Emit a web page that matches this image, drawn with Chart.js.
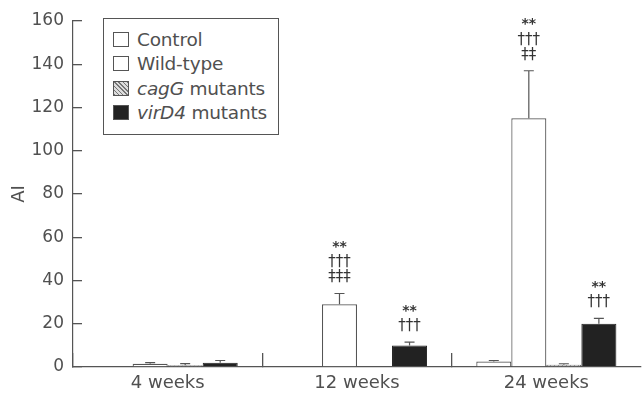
<!DOCTYPE html>
<html>
<head>
<meta charset="utf-8">
<script src="https://cdn.jsdelivr.net/npm/chart.js@4.4.1/dist/chart.umd.min.js"></script>
<style>
  html, body { margin: 0; padding: 0; background: #fff; }
  #wrap { position: relative; width: 644px; height: 397px; }
  #legend {
    position: absolute; left: 103px; top: 18px; width: 176px; height: 117px;
    border: 1.2px solid #555; box-sizing: border-box; background: #fff;
    font-family: "DejaVu Sans", sans-serif; font-size: 18.5px; color: #505050;
    padding: 9px 0 0 9px;
  }
  #legend div { height: 24.3px; line-height: 24px; white-space: nowrap; letter-spacing: -0.2px; }
  #legend span.box {
    display: inline-block; width: 16px; height: 15px; box-sizing: border-box;
    border: 1.2px solid #555; vertical-align: -1px; margin-right: 8px; background: #fff;
  }
</style>
</head>
<body>
<div id="wrap">
  <canvas id="chart"></canvas>
  <div id="legend">
    <div><span class="box"></span>Control</div>
    <div><span class="box"></span>Wild-type</div>
    <div><span class="box" style="background: repeating-linear-gradient(45deg,#777 0 1px,#ddd 1px 3px)"></span><i>cagG</i> mutants</div>
    <div><span class="box" style="background:#222"></span><i>virD4</i> mutants</div>
  </div>
</div>
<script>
const categories = ['4 weeks', '12 weeks', '24 weeks'];
const yTicks = [0, 20, 40, 60, 80, 100, 120, 140, 160];

const control = [0.4, 0.5, 2.5];
const controlErr = [0, 0, 0.5];
const wildType = [1.5, 29, 115];
const wildTypeErr = [0.5, 5, 22];
const cagG = [0.8, 0.5, 1];
const cagGErr = [0.8, 0, 0.5];
const virD4 = [2, 10, 20];
const virD4Err = [1, 1.5, 2.5];

// significance marks above the error bars, bottom line last
const wildTypeMarks = [[], ['**', '†††', '‡‡‡'], ['**', '†††', '‡‡']];
const virD4Marks = [[], ['**', '†††'], ['**', '†††']];

const ink = '#505050';
const font = '"DejaVu Sans", sans-serif';

// hatched fill for cagG
const pc = document.createElement('canvas');
pc.width = 4; pc.height = 4;
const px = pc.getContext('2d');
px.fillStyle = '#ddd'; px.fillRect(0, 0, 4, 4);
px.strokeStyle = '#777'; px.beginPath(); px.moveTo(0, 4); px.lineTo(4, 0); px.stroke();
const hatch = px.createPattern(pc, 'repeat');

const errorBars = {
  id: 'errorBars',
  afterDatasetsDraw(chart) {
    const ctx = chart.ctx;
    const y = chart.scales.y;
    ctx.save();
    ctx.strokeStyle = '#555';
    ctx.lineWidth = 1.2;
    chart.data.datasets.forEach((ds, i) => {
      const meta = chart.getDatasetMeta(i);
      meta.data.forEach((bar, j) => {
        const err = ds.err[j];
        const top = y.getPixelForValue(ds.data[j] + err);
        const base = y.getPixelForValue(ds.data[j]);
        if (err > 0) {
          ctx.beginPath();
          ctx.moveTo(bar.x, base); ctx.lineTo(bar.x, top);
          ctx.moveTo(bar.x - 5, top); ctx.lineTo(bar.x + 5, top);
          ctx.stroke();
        }
        const marks = ds.marks ? ds.marks[j] : [];
        ctx.fillStyle = '#333';
        ctx.textAlign = 'center';
        ctx.textBaseline = 'middle';
        marks.slice().reverse().forEach((m, k) => {
          ctx.font = (m === '**' ? 'bold 14px ' : '15px ') + font;
          ctx.fillText(m, bar.x, top - 16 - 15 * k);
        });
      });
    });
    ctx.restore();
  }
};

new Chart(document.getElementById('chart'), {
  type: 'bar',
  data: {
    labels: categories,
    datasets: [
      { label: 'Control', data: control, err: controlErr, backgroundColor: '#fff', borderColor: '#555', borderWidth: 1.2 },
      { label: 'Wild-type', data: wildType, err: wildTypeErr, marks: wildTypeMarks, backgroundColor: '#fff', borderColor: '#555', borderWidth: 1.2 },
      { label: 'cagG mutants', data: cagG, err: cagGErr, backgroundColor: hatch, borderColor: '#555', borderWidth: 1.2 },
      { label: 'virD4 mutants', data: virD4, err: virD4Err, marks: virD4Marks, backgroundColor: '#222', borderColor: '#222', borderWidth: 1 }
    ]
  },
  options: {
    responsive: true,
    maintainAspectRatio: false,
    animation: false,
    layout: { padding: { top: 21, right: 3, left: 0, bottom: 0 } },
    categoryPercentage: 0.74,
    barPercentage: 1,
    plugins: { legend: { display: false }, tooltip: { enabled: false } },
    scales: {
      x: {
        // negative tick length turns the ticks inward; no tick at the right end
        grid: {
          drawOnChartArea: false, drawTicks: true, tickLength: -14, lineWidth: 1.3,
          color: c => c.type === 'tick' ? '#555' : 'rgba(0,0,0,0)'
        },
        border: { color: '#555', width: 1.2 },
        ticks: { color: ink, font: { family: font, size: 18 }, padding: 20 },
        afterFit(s) { s.height = 30; s.paddingLeft = 0; s.paddingRight = 0; }
      },
      y: {
        min: 0, max: 160,
        afterBuildTicks(s) { s.ticks = yTicks.map(v => ({ value: v })); },
        grid: { drawOnChartArea: false, drawTicks: true, tickLength: -9, color: '#555', lineWidth: 1.3 },
        border: { color: '#555', width: 1.2 },
        ticks: { color: ink, font: { family: font, size: 17 }, padding: 18 },
        title: { display: true, text: 'AI', color: ink, font: { family: font, size: 18 }, padding: { top: 9 } },
        afterFit(s) { s.width = 73; s.paddingTop = 10; s.paddingBottom = 10; }
      }
    }
  },
  plugins: [errorBars]
});
</script>
</body>
</html>
